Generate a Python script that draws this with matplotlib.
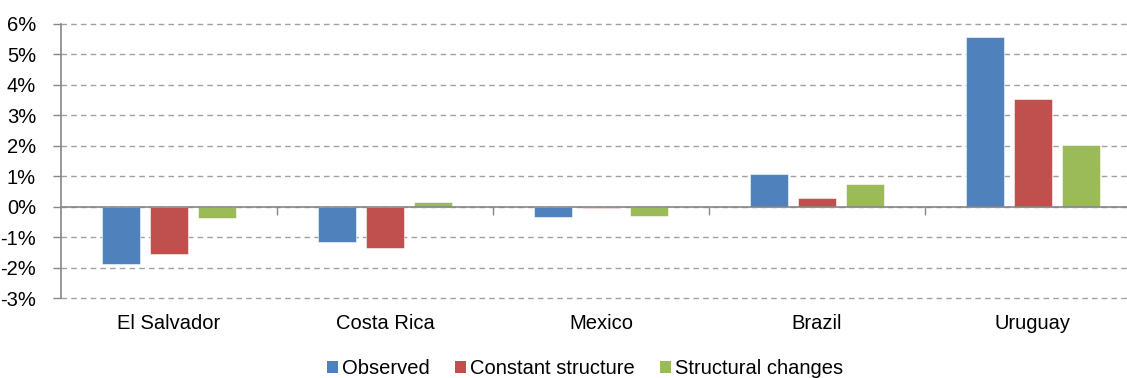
import matplotlib
matplotlib.use("Agg")
import matplotlib.pyplot as plt
from matplotlib.patches import Patch
from matplotlib.transforms import blended_transform_factory
import numpy as np

plt.rcParams['font.family'] = ['Liberation Sans', 'DejaVu Sans']

categories = ["El Salvador", "Costa Rica", "Mexico", "Brazil", "Uruguay"]
series_names = ["Observed", "Constant structure", "Structural changes"]
observed = [-1.88, -1.15, -0.34, 1.06, 5.58]
constant_structure = [-1.54, -1.34, -0.05, 0.27, 3.53]
structural_changes = [-0.38, 0.14, -0.31, 0.75, 2.03]
y_ticks = [-3, -2, -1, 0, 1, 2, 3, 4, 5, 6]
colors = ["#4F81BD", "#C0504D", "#9BBB59"]

FS = 14.5
W, H = 1127, 378
fig = plt.figure(figsize=(W / 100, H / 100), dpi=100)
left_px, right_px, top_px, bot_px = 61, 1141, 23.7, 298.2
ax = fig.add_axes([left_px / W, 1 - bot_px / H, (right_px - left_px) / W, (bot_px - top_px) / H])

x = np.arange(len(categories)) + 0.5
bw = 38 / 216
off = 48 / 216
for i, (vals, c) in enumerate(zip([observed, constant_structure, structural_changes], colors)):
    ax.bar(x + (i - 1) * off, vals, width=bw, color=c, edgecolor='white', linewidth=0.4, zorder=3)

ax.set_xlim(0, len(categories))
ax.set_ylim(-3, 6)
ax.set_yticks(y_ticks)
ax.set_yticklabels([f"{v}%" for v in y_ticks], fontsize=FS)
ax.yaxis.grid(True, linestyle=(0, (4, 3)), color='#A0A0A0', linewidth=1.0, zorder=0)
for gl in ax.yaxis.get_gridlines():
    gl.set_clip_on(False)
ax.tick_params(axis='y', length=6, width=1, color='#868686', pad=12)

for s in ['top', 'right']:
    ax.spines[s].set_visible(False)
ax.spines['left'].set_color('#868686')
ax.spines['left'].set_linewidth(1.2)
ax.spines['bottom'].set_position(('data', 0))
ax.spines['bottom'].set_color('#868686')
ax.spines['bottom'].set_linewidth(1.2)
ax.spines['bottom'].set_zorder(4)
ax.set_xticks(np.arange(1, len(categories)))
ax.set_xticklabels([])
ax.tick_params(axis='x', direction='out', length=6, width=1, color='#868686')

tr = blended_transform_factory(ax.transData, ax.transAxes)
for xi, cat in zip(x, categories):
    ax.annotate(cat, xy=(xi, 0), xycoords=tr, xytext=(0, -25), textcoords='offset pixels',
                ha='center', va='center', fontsize=FS)

handles = [Patch(facecolor=c, edgecolor='none') for c in colors]
fig.legend(handles, series_names, loc='center', bbox_to_anchor=(585 / W, 1 - 369 / H),
           ncol=3, frameon=False, fontsize=FS, handlelength=0.55, handleheight=0.55,
           handletextpad=0.2, columnspacing=1.25, borderaxespad=0)

fig.savefig("out.png", dpi=100)
